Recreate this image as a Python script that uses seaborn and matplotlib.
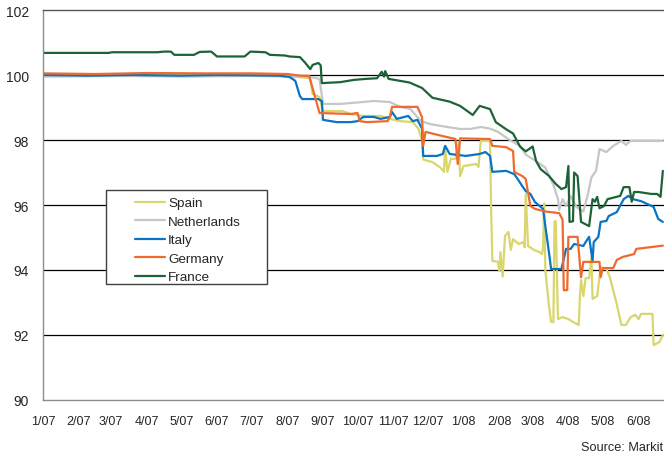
import matplotlib
matplotlib.use("Agg")
import matplotlib.pyplot as plt
from matplotlib.patches import Rectangle
import seaborn as sns
import pandas as pd

# values (index level, breakpoints per series)
spain_dates = ["2007-01-01", "2007-03-01", "2007-05-01", "2007-07-01", "2007-07-30", "2007-08-10",
               "2007-08-21", "2007-08-23", "2007-08-29", "2007-09-01", "2007-09-18", "2007-09-25",
               "2007-10-06", "2007-10-21", "2007-10-29", "2007-11-07", "2007-11-18", "2007-11-23",
               "2007-11-26", "2007-11-27", "2007-12-05", "2007-12-12", "2007-12-15", "2007-12-16",
               "2007-12-18", "2007-12-21", "2007-12-25", "2007-12-28", "2007-12-29", "2008-01-01",
               "2008-01-12", "2008-01-14", "2008-01-16", "2008-01-24", "2008-01-25", "2008-01-26",
               "2008-01-31", "2008-02-01", "2008-02-02", "2008-02-04", "2008-02-06", "2008-02-09",
               "2008-02-11", "2008-02-13", "2008-02-18", "2008-02-22", "2008-02-23", "2008-02-24",
               "2008-02-26", "2008-03-02", "2008-03-07", "2008-03-09", "2008-03-10", "2008-03-11",
               "2008-03-12", "2008-03-15", "2008-03-17", "2008-03-19", "2008-03-20", "2008-03-21",
               "2008-03-23", "2008-03-27", "2008-04-01", "2008-04-05", "2008-04-10", "2008-04-11",
               "2008-04-12", "2008-04-14", "2008-04-16", "2008-04-19", "2008-04-21", "2008-04-22",
               "2008-04-26", "2008-04-29", "2008-05-04", "2008-05-07", "2008-05-13", "2008-05-17",
               "2008-05-21", "2008-05-25", "2008-05-29", "2008-06-01", "2008-06-03", "2008-06-13",
               "2008-06-14", "2008-06-19", "2008-06-22"]
spain = [100.00, 99.98, 100.00, 99.98, 99.97, 99.94,
         99.90, 99.42, 99.32, 98.89, 98.89, 98.80,
         98.74, 98.74, 98.65, 98.58, 98.55, 98.34,
         97.97, 97.40, 97.32, 97.15, 97.02, 97.80,
         97.02, 97.42, 97.42, 97.94, 96.89, 97.20,
         97.26, 97.17, 97.97, 97.97, 95.80, 94.28,
         94.25, 93.97, 94.55, 93.80, 95.05, 95.17,
         94.62, 94.95, 94.80, 94.86, 94.70, 96.34,
         94.74, 94.62, 94.55, 94.49, 94.65, 96.05,
         94.00, 92.95, 92.40, 92.40, 95.50, 95.50,
         92.49, 92.55, 92.49, 92.40, 92.31, 93.20,
         93.69, 93.20, 93.75, 93.75, 94.40, 93.11,
         93.20, 94.09, 94.03, 93.78, 92.95, 92.31,
         92.31, 92.55, 92.62, 92.49, 92.65, 92.65,
         91.69, 91.78, 92.00]

netherlands_dates = ["2007-01-01", "2007-03-15", "2007-05-01", "2007-07-01", "2007-08-21", "2007-08-29",
                     "2007-09-01", "2007-09-16", "2007-10-06", "2007-10-15", "2007-10-29", "2007-11-07",
                     "2007-11-16", "2007-11-25", "2007-12-03", "2007-12-18", "2007-12-29", "2008-01-07",
                     "2008-01-16", "2008-01-24", "2008-01-31", "2008-02-10", "2008-02-19", "2008-02-24",
                     "2008-03-04", "2008-03-12", "2008-03-19", "2008-03-23", "2008-03-24", "2008-03-27",
                     "2008-03-30", "2008-04-03", "2008-04-08", "2008-04-14", "2008-04-18", "2008-04-21",
                     "2008-04-25", "2008-04-28", "2008-05-04", "2008-05-10", "2008-05-17", "2008-05-21",
                     "2008-05-25", "2008-06-22"]
netherlands = [99.95, 99.97, 99.95, 99.97, 99.94, 99.88,
               99.11, 99.11, 99.17, 99.20, 99.17, 99.02,
               98.95, 98.58, 98.49, 98.40, 98.34, 98.34,
               98.40, 98.35, 98.25, 98.00, 97.82, 97.55,
               97.35, 97.15, 96.62, 96.18, 95.85, 96.18,
               95.97, 96.28, 95.94, 95.80, 96.34, 96.85,
               97.05, 97.72, 97.63, 97.82, 97.97, 97.85,
               97.97, 97.97]

italy_dates = ["2007-01-01", "2007-02-10", "2007-03-20", "2007-05-01", "2007-06-01", "2007-07-25",
               "2007-08-03", "2007-08-08", "2007-08-12", "2007-08-14", "2007-08-28", "2007-08-31",
               "2007-09-01", "2007-09-13", "2007-09-25", "2007-10-01", "2007-10-06", "2007-10-15",
               "2007-10-21", "2007-10-29", "2007-10-31", "2007-11-04", "2007-11-14", "2007-11-18",
               "2007-11-22", "2007-11-26", "2007-11-27", "2007-12-09", "2007-12-14", "2007-12-16",
               "2007-12-20", "2008-01-03", "2008-01-15", "2008-01-20", "2008-01-24", "2008-01-26",
               "2008-02-07", "2008-02-14", "2008-02-17", "2008-02-21", "2008-02-24", "2008-02-28",
               "2008-03-03", "2008-03-10", "2008-03-12", "2008-03-15", "2008-03-17", "2008-03-26",
               "2008-03-30", "2008-04-03", "2008-04-06", "2008-04-14", "2008-04-16", "2008-04-19",
               "2008-04-22", "2008-04-23", "2008-04-27", "2008-04-29", "2008-05-04", "2008-05-06",
               "2008-05-13", "2008-05-19", "2008-05-23", "2008-05-27", "2008-06-03", "2008-06-14",
               "2008-06-18", "2008-06-22"]
italy = [100.00, 99.98, 100.00, 99.98, 100.00, 99.98,
         99.94, 99.82, 99.35, 99.26, 99.26, 99.20,
         98.62, 98.55, 98.55, 98.58, 98.71, 98.71,
         98.65, 98.71, 98.86, 98.65, 98.74, 98.58,
         98.62, 98.35, 97.51, 97.51, 97.57, 97.82,
         97.57, 97.51, 97.57, 97.63, 97.51, 97.02,
         97.05, 96.95, 96.80, 96.58, 96.43, 96.34,
         96.09, 95.88, 95.35, 94.58, 94.03, 94.03,
         94.65, 94.65, 94.80, 94.74, 94.86, 95.02,
         94.28, 94.86, 95.02, 95.48, 95.51, 95.66,
         95.78, 96.18, 96.28, 96.18, 96.12, 95.94,
         95.57, 95.48]

germany_dates = ["2007-01-01", "2007-02-15", "2007-04-01", "2007-05-20", "2007-07-01", "2007-08-01",
                 "2007-08-12", "2007-08-20", "2007-08-29", "2007-09-25", "2007-10-01", "2007-10-03",
                 "2007-10-09", "2007-10-27", "2007-10-29", "2007-10-31", "2007-11-22", "2007-11-26",
                 "2007-11-27", "2007-11-29", "2007-12-14", "2007-12-25", "2007-12-27", "2007-12-29",
                 "2008-01-24", "2008-01-26", "2008-02-07", "2008-02-13", "2008-02-14", "2008-02-21",
                 "2008-02-24", "2008-02-28", "2008-03-03", "2008-03-12", "2008-03-24", "2008-03-27",
                 "2008-03-28", "2008-03-31", "2008-04-01", "2008-04-09", "2008-04-12", "2008-04-14",
                 "2008-04-28", "2008-04-29", "2008-05-01", "2008-05-10", "2008-05-13", "2008-05-18",
                 "2008-05-28", "2008-05-30", "2008-06-13", "2008-06-22"]
germany = [100.05, 100.03, 100.06, 100.05, 100.05, 100.03,
           99.98, 99.97, 98.83, 98.80, 98.83, 98.58,
           98.55, 98.58, 98.71, 99.02, 99.02, 98.70,
           97.82, 98.25, 98.12, 98.03, 97.26, 98.05,
           98.03, 97.82, 97.78, 97.66, 97.02, 96.89,
           96.80, 95.97, 95.88, 95.80, 95.75, 95.55,
           93.38, 93.38, 95.02, 95.02, 93.78, 94.25,
           94.25, 93.78, 94.06, 94.06, 94.31, 94.40,
           94.49, 94.65, 94.71, 94.75]

france_dates = ["2007-01-01", "2007-02-27", "2007-03-02", "2007-04-10", "2007-04-16", "2007-04-22",
                "2007-04-25", "2007-05-12", "2007-05-17", "2007-05-27", "2007-06-01", "2007-06-25",
                "2007-06-30", "2007-07-13", "2007-07-17", "2007-07-30", "2007-08-03", "2007-08-12",
                "2007-08-16", "2007-08-21", "2007-08-23", "2007-08-28", "2007-08-30", "2007-08-31",
                "2007-09-16", "2007-09-28", "2007-10-08", "2007-10-18", "2007-10-22", "2007-10-24",
                "2007-10-25", "2007-10-28", "2007-11-15", "2007-11-26", "2007-12-05", "2007-12-20",
                "2007-12-29", "2008-01-09", "2008-01-15", "2008-01-24", "2008-01-29", "2008-02-07",
                "2008-02-13", "2008-02-19", "2008-02-24", "2008-03-01", "2008-03-04", "2008-03-08",
                "2008-03-15", "2008-03-21", "2008-03-26", "2008-03-30", "2008-04-01", "2008-04-02",
                "2008-04-05", "2008-04-06", "2008-04-09", "2008-04-12", "2008-04-19", "2008-04-22",
                "2008-04-24", "2008-04-26", "2008-04-28", "2008-05-02", "2008-05-05", "2008-05-16",
                "2008-05-19", "2008-05-24", "2008-05-26", "2008-05-28", "2008-06-01", "2008-06-12",
                "2008-06-17", "2008-06-20", "2008-06-22"]
france = [100.68, 100.68, 100.70, 100.70, 100.72, 100.72,
          100.62, 100.62, 100.71, 100.72, 100.57, 100.57,
          100.72, 100.70, 100.62, 100.60, 100.57, 100.55,
          100.40, 100.18, 100.31, 100.37, 100.30, 99.75,
          99.78, 99.85, 99.88, 99.90, 100.10, 99.95,
          100.12, 99.88, 99.77, 99.60, 99.30, 99.18,
          99.05, 98.77, 99.05, 98.95, 98.55, 98.33,
          98.20, 97.80, 97.65, 97.80, 97.35, 97.10,
          96.90, 96.65, 96.49, 96.55, 97.20, 95.48,
          95.50, 97.00, 96.89, 95.48, 95.35, 96.18,
          96.10, 96.25, 95.90, 95.97, 96.18, 96.28,
          96.55, 96.55, 96.10, 96.40, 96.40, 96.34,
          96.34, 96.25, 97.05]

countries = ["Spain", "Netherlands", "Italy", "Germany", "France"]
colors = ["#d8d66c", "#c6c6c6", "#0a74c4", "#ef6a2e", "#1c6438"]

frames = []
for name, d, v in [("Spain", spain_dates, spain),
                   ("Netherlands", netherlands_dates, netherlands),
                   ("Italy", italy_dates, italy),
                   ("Germany", germany_dates, germany),
                   ("France", france_dates, france)]:
    frames.append(pd.DataFrame({"date": pd.to_datetime(d), "value": v, "country": name}))
df = pd.concat(frames, ignore_index=True)

sns.set_style("white")
plt.rcParams["font.family"] = ["Liberation Sans", "DejaVu Sans"]

fig = plt.figure(figsize=(6.64, 4.56), dpi=100)
ax = fig.add_axes([43 / 664, 1 - 401 / 456, 621 / 664, 390 / 456])

sns.lineplot(data=df, x="date", y="value", hue="country", hue_order=countries,
             palette=colors, linewidth=1.6, estimator=None, ax=ax)

ax.set_ylim(90, 102)
ax.set_yticks(range(90, 103, 2))
ax.set_xlim(pd.Timestamp("2007-01-01"), pd.Timestamp("2008-06-23"))
months = pd.date_range("2007-01-01", "2008-06-01", freq="MS")
ax.set_xticks(months)
ax.set_xticklabels([f"{m.month}/{m.strftime('%y')}" for m in months])
ax.tick_params(axis="x", length=0, pad=11, labelsize=9)
ax.tick_params(axis="y", length=0, pad=10, labelsize=10)
ax.set_xlabel("")
ax.set_ylabel("")

for yv in range(92, 101, 2):
    ax.axhline(yv, color="black", linewidth=0.9, zorder=0.5)

for s in ["left", "bottom"]:
    ax.spines[s].set_color("#8c8c8c")
    ax.spines[s].set_linewidth(1.0)
ax.spines["top"].set_color("#555555")
ax.spines["top"].set_linewidth(1.0)
ax.spines["right"].set_visible(False)

# legend box
box = Rectangle((63 / 621, 116 / 390), 161 / 621, 94 / 390, transform=ax.transAxes,
                facecolor="white", edgecolor="#404040", linewidth=1.0, zorder=5)
ax.add_patch(box)
handles, labels = ax.get_legend_handles_labels()
leg = ax.legend(handles, labels, loc="upper left", bbox_to_anchor=(92 / 621, 203 / 390),
                frameon=False, fontsize=9.7, borderpad=0, borderaxespad=0,
                handlelength=2.2, handletextpad=0.25, labelspacing=0.45)
leg.set_zorder(6)

fig.text(663 / 664, 1 - 448 / 456, "Source: Markit", ha="right", va="center", fontsize=9.2)

fig.savefig("out.png", dpi=100)
